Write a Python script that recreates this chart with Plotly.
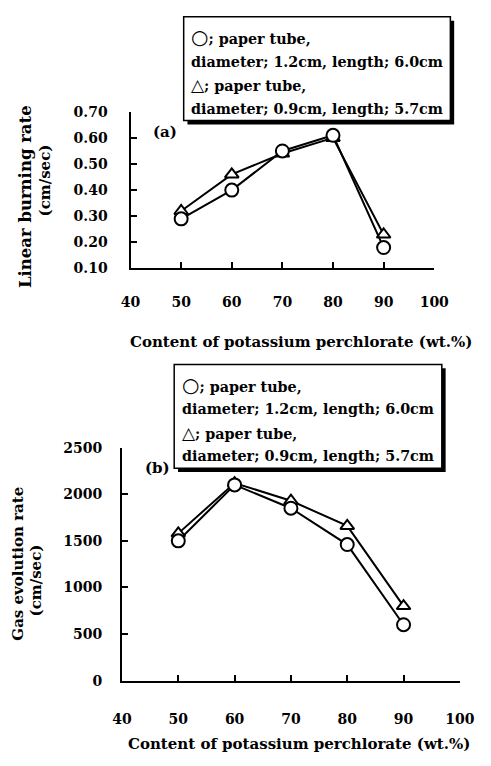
import plotly.graph_objects as go

W, H = 491, 766

# Content of potassium perchlorate (wt.%)
content = [50, 60, 70, 80, 90]

# (a) Linear burning rate (cm/sec)
burn_d12 = [0.29, 0.40, 0.55, 0.61, 0.18]   # diameter 1.2 cm, length 6.0 cm
burn_d09 = [0.32, 0.46, 0.54, 0.60, 0.23]   # diameter 0.9 cm, length 5.7 cm

# (b) Gas evolution rate (cm/sec)
gas_d12 = [1500, 2100, 1850, 1460, 600]
gas_d09 = [1580, 2120, 1930, 1660, 800]

x_ticks = [40, 50, 60, 70, 80, 90, 100]
burn_ticks = [0.10, 0.20, 0.30, 0.40, 0.50, 0.60, 0.70]
gas_ticks = [0, 500, 1000, 1500, 2000, 2500]

legend_lines = [
    "<span style='font-size:20px'>\u25cb</span>; paper tube,",
    "diameter; 1.2cm, length; 6.0cm",
    "<span style='font-size:17px'>\u25b3</span>; paper tube,",
    "diameter; 0.9cm, length; 5.7cm",
]

FONT = "DejaVu Serif"


def px(x):
    return x / W


def py(y):
    return 1 - y / H


fig = go.Figure()

series = [
    ("x", "y", content, burn_d09, "triangle-up"),
    ("x", "y", content, burn_d12, "circle"),
    ("x2", "y2", content, gas_d09, "triangle-up"),
    ("x2", "y2", content, gas_d12, "circle"),
]
for xa, ya, xs, ys, sym in series:
    fig.add_trace(go.Scatter(
        x=xs, y=ys, xaxis=xa, yaxis=ya, mode="lines+markers",
        line=dict(color="black", width=2),
        marker=dict(symbol=sym, size=13 if sym == "circle" else 12,
                    color="white", line=dict(color="black", width=2)),
        cliponaxis=False, showlegend=False,
    ))

tickfont = dict(family=FONT, size=14, color="black", weight="bold")
axis_common = dict(
    showline=True, linecolor="black", linewidth=2, mirror=False,
    ticks="inside", ticklen=6, tickwidth=2, tickcolor="black",
    showgrid=False, zeroline=False, tickfont=tickfont,
)

fig.update_layout(
    width=W, height=H,
    margin=dict(l=0, r=0, t=0, b=0),
    paper_bgcolor="white", plot_bgcolor="white",
    xaxis=dict(domain=[px(127), px(447)], range=[40, 100], tickvals=x_ticks,
               anchor="y", ticklabelstandoff=20, **axis_common),
    yaxis=dict(domain=[py(266), py(106)], range=[0.10, 0.70], tickvals=burn_ticks,
               tickformat=".2f", anchor="x", ticklabelstandoff=18, **axis_common),
    xaxis2=dict(domain=[px(118), px(474)], range=[40, 100], tickvals=x_ticks,
                anchor="y2", ticklabelstandoff=25, **axis_common),
    yaxis2=dict(domain=[py(687), py(449)], range=[0, 2500], tickvals=gas_ticks,
                anchor="x2", ticklabelstandoff=15, **axis_common),
)


def font(size):
    return dict(family=FONT, size=size, color="black", weight="bold")


def label(text, x, y, angle=0, anchor="center", size=15):
    return dict(text=text, xref="paper", yref="paper", x=px(x), y=py(y),
                xanchor=anchor, yanchor="middle", textangle=angle,
                showarrow=False, font=font(size))


# Legend boxes with drop shadow
shapes = []
annotations = []
for (x0, y0, x1, y1), tx, ty in [((183, 9, 464, 115), 189, [30, 55, 79, 103]),
                                 ((173, 364, 455, 470), 179, [385, 410, 434, 458])]:
    shapes.append(dict(type="rect", xref="paper", yref="paper",
                       x0=px(x0 + 4), x1=px(x1 + 4), y0=py(y1 + 4), y1=py(y0 + 4),
                       fillcolor="black", line=dict(width=0), layer="above"))
    shapes.append(dict(type="rect", xref="paper", yref="paper",
                       x0=px(x0), x1=px(x1), y0=py(y1), y1=py(y0),
                       fillcolor="white", line=dict(color="black", width=1.5),
                       layer="above"))
    for line, yy in zip(legend_lines, ty):
        annotations.append(label(line, tx, yy, anchor="left", size=14.3))

# Panel labels
annotations.append(label("(a)", 163, 127))
annotations.append(label("(b)", 155, 470))

# Axis titles
xtitle = "Content of potassium perchlorate (wt.%)"
annotations.append(label(xtitle, 307, 341))
annotations.append(label(xtitle, 304, 752))
annotations.append(label("Linear burning rate", 17, 193, angle=-90, size=16.5))
annotations.append(label("(cm/sec)", 37, 176, angle=-90))
annotations.append(label("Gas evolution rate", 9, 568, angle=-90))
annotations.append(label("(cm/sec)", 27, 585, angle=-90))

fig.update_layout(shapes=shapes, annotations=annotations)

fig.write_html("out.html")
